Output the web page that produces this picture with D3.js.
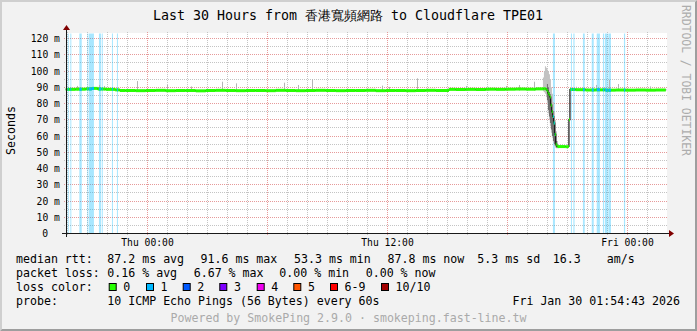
<!DOCTYPE html>
<html><head><meta charset="utf-8">
<script src="https://cdn.jsdelivr.net/npm/d3@7"></script>
<style>
html,body{margin:0;padding:0;background:#f2f2f2;}
svg{display:block;}
text{font-family:"DejaVu Sans Mono",monospace;}
</style></head><body>
<svg id="c" width="697" height="331"></svg>
<script>
// ---------------- data ----------------
const title = "Last 30 Hours from 香港寬頻網路 to Cloudflare TPE01";
const startTime = new Date(2026, 0, 28, 19, 54, 43);
const endTime = new Date(2026, 0, 30, 1, 54, 43);
const yTicks = [0, 10, 20, 30, 40, 50, 60, 70, 80, 90, 100, 110, 120];
const yMinorTicks = [5, 15, 25, 35, 45, 55, 65, 75, 85, 95, 105, 115];
const yTickLabels = ["0", "10 m", "20 m", "30 m", "40 m", "50 m", "60 m", "70 m", "80 m", "90 m", "100 m", "110 m", "120 m"];
const xTickTimes = [new Date(2026, 0, 29, 0, 0), new Date(2026, 0, 29, 12, 0), new Date(2026, 0, 30, 0, 0)];
const xTickLabels = ["Thu 00:00", "Thu 12:00", "Fri 00:00"];

// median rtt: [hours since start, ms]
const medianPts = [
  [0, 88.7], [0.5, 88.8], [1.0, 89.0], [1.3, 89.3], [1.6, 88.9], [2.0, 88.7], [2.47, 88.4],
  [2.7, 88.0], [3.0, 88.0], [3.5, 87.9], [4.0, 88.0], [4.5, 88.1], [5.0, 87.9], [5.5, 88.0],
  [6.0, 88.0], [6.5, 87.8], [7.0, 88.0], [7.5, 88.1], [8.0, 88.0], [8.5, 87.9], [9.0, 88.0],
  [9.5, 88.0], [10.0, 87.9], [10.5, 88.1], [11.0, 88.0], [11.5, 87.9], [12.0, 88.0], [12.5, 88.1],
  [13.0, 88.0], [13.5, 87.9], [14.0, 88.0], [14.5, 88.0], [15.0, 88.1], [15.5, 87.9], [16.0, 88.0],
  [16.5, 88.0], [17.0, 87.9], [17.5, 88.0], [18.0, 88.1], [18.5, 88.0], [19.16, 88.7], [19.5, 88.6],
  [20.0, 88.7], [20.5, 88.6], [21.0, 88.8], [21.5, 88.7], [22.0, 88.8], [22.5, 88.9], [23.0, 88.8],
  [23.5, 89.0], [23.9, 89.1], [24.0, 88.8], [24.05, 88.0], [24.1, 86.5], [24.15, 85.5], [24.2, 84.0],
  [24.25, 79.0], [24.3, 75.0], [24.35, 72.0], [24.4, 68.0], [24.45, 61.0], [24.5, 55.0], [24.55, 53.8],
  [24.6, 53.5], [25.0, 53.4], [25.12, 53.6], [25.16, 70.0], [25.21, 88.6], [25.5, 88.5], [26.0, 88.3],
  [26.5, 88.4], [27.0, 88.2], [27.5, 88.3], [28.0, 88.2], [28.5, 88.3], [29.0, 88.2], [29.5, 88.3], [30.0, 88.2]
];
// smoke spikes (max ping): [hours, ms]
const spikes = [
  [0.61, 90.8], [1.71, 91.4], [1.96, 90.8], [3.61, 93.8], [5.11, 91.4], [6.31, 90.5], [7.86, 93.4],
  [8.56, 92.4], [10.96, 92.8], [11.66, 91.4], [12.36, 95.0], [15.86, 91.0], [16.21, 90.2], [17.61, 95.5],
  [20.06, 90.8], [21.16, 90.2], [22.06, 90.8], [22.71, 91.4], [23.46, 93.4], [25.56, 90.3], [26.56, 91.4],
  [27.21, 94.5], [27.66, 92.0], [29.26, 90.5]
];
// smoke during the drop: [hours, low ms, high ms]
const dropSmoke = [
  [23.86, 87.5, 96], [23.91, 87, 100], [23.96, 86, 103], [24.01, 84, 102], [24.06, 80, 101],
  [24.11, 74, 100], [24.16, 70, 98], [24.21, 66, 95], [24.26, 62, 90], [24.31, 59, 86],
  [24.36, 56, 81], [24.41, 54, 75], [24.46, 53, 70], [24.51, 52.5, 63], [24.56, 52.5, 57], [24.61, 52.5, 55], [24.66, 52.5, 52.5]
];
const dropCore = [
  [24.06, 82, 92], [24.11, 76, 90], [24.16, 72, 87], [24.21, 68, 84], [24.26, 64, 80], [24.31, 60, 76],
  [24.36, 57, 72], [24.41, 55, 68], [24.46, 54, 62], [24.51, 53, 57], [24.56, 53, 53]
];
// periods with 1/10 packet loss: [start hour, end hour]
const lossBands = [
  [0.10, 0.15], [0.23, 0.28], [0.68, 0.80], [1.08, 1.12], [1.15, 1.41], [1.66, 1.76], [1.80, 1.85],
  [2.31, 2.36], [2.56, 2.61], [24.36, 24.46], [25.26, 25.31], [25.38, 25.44], [25.86, 25.95],
  [26.30, 26.40], [26.55, 26.71], [26.86, 26.92], [26.96, 27.10], [27.13, 27.26], [27.91, 27.97]
];
const lossLegendLabels = ["0", "1", "2", "3", "4", "5", "6-9", "10/10"];
const lossLegendColors = ["#26ff00", "#00b8ff", "#0059ff", "#7e00ff", "#f000f0", "#ff5500", "#ff0000", "#a10000"];
const rttStats = ["87.2 ms avg", "91.6 ms max", "53.3 ms min", "87.8 ms now", "5.3 ms sd", "16.3", "am/s"];
const lossStats = ["0.16 % avg", "6.67 % max", "0.00 % min", "0.00 % now"];
const probeText = "10 ICMP Echo Pings (56 Bytes) every 60s";
const dateText = "Fri Jan 30 01:54:43 2026";
const poweredText = "Powered by SmokePing 2.9.0 · smokeping.fast-line.tw";

// ---------------- drawing ----------------
const W = 697, H = 331;
const svg = d3.select("#c");
const x = d3.scaleTime().domain([startTime, endTime]).range([65.74, 665.74]);
const toT = h => new Date(startTime.getTime() + h * 3600000);
const xh = h => x(toT(h));
const y = d3.scaleLinear().domain([0, 123.077]).range([233.5, 33.5]);
const crisp = v => Math.floor(v) + 0.5;

svg.append("rect").attr("width", W).attr("height", H).attr("fill", "#f2f2f2");
svg.append("polygon").attr("points", `0,0 ${W},0 ${W-2},2 2,2 2,${H-2} 0,${H}`).attr("fill", "#cfcfcf");
svg.append("polygon").attr("points", `${W},${H} 0,${H} 2,${H-2} ${W-2},${H-2} ${W-2},2 ${W},0`).attr("fill", "#9e9e9e");

// canvas
svg.append("rect").attr("x", 66).attr("y", 33).attr("width", 601).attr("height", 201).attr("fill", "#ffffff");

// grid
const gGrid = svg.append("g").attr("stroke-width", 1).attr("stroke-dasharray", "1,1").attr("fill", "none");
const majorHours = d3.timeHour.every(6).range(startTime, endTime);
const majorSet = new Set(majorHours.map(d => +d));
d3.timeHour.range(startTime, endTime).filter(d => !majorSet.has(+d)).forEach(d => {
  const px = crisp(x(d));
  gGrid.append("line").attr("x1", px).attr("x2", px).attr("y1", 235).attr("y2", 31).attr("stroke", "#c4c4c4");
});
yMinorTicks.forEach(v => {
  const py = crisp(y(v));
  gGrid.append("line").attr("x1", 64).attr("x2", 668).attr("y1", py).attr("y2", py).attr("stroke", "#c4c4c4");
});
majorHours.forEach(d => {
  const px = crisp(x(d));
  gGrid.append("line").attr("x1", px).attr("x2", px).attr("y1", 235).attr("y2", 31).attr("stroke", "#e69a9a");
});
yTicks.slice(1).forEach(v => {
  const py = crisp(y(v));
  gGrid.append("line").attr("x1", 64).attr("x2", 668).attr("y1", py).attr("y2", py).attr("stroke", "#e69a9a");
});

// loss bands
svg.append("g").selectAll("rect").data(lossBands).join("rect")
  .attr("x", d => xh(d[0])).attr("width", d => xh(d[1]) - xh(d[0]))
  .attr("y", y.range()[1]).attr("height", y.range()[0] - y.range()[1])
  .attr("fill", "#00b8ff").attr("fill-opacity", 0.34);

const clip = svg.append("defs").append("clipPath").attr("id", "lossclip");
clip.selectAll("rect").data(lossBands).join("rect")
  .attr("x", d => xh(d[0])).attr("width", d => xh(d[1]) - xh(d[0]))
  .attr("y", 0).attr("height", H);

// smoke
svg.append("g").selectAll("rect").data(spikes).join("rect")
  .attr("x", d => Math.floor(xh(d[0]))).attr("width", 1)
  .attr("y", d => y(d[1])).attr("height", d => y(88) - y(d[1]))
  .attr("fill", "#b4b4b4");
const smokeArea = d3.area().x(d => xh(d[0])).y0(d => y(d[1])).y1(d => y(d[2])).curve(d3.curveStepAfter);
svg.append("path").datum(dropSmoke).attr("d", smokeArea).attr("fill", "#c2c2c2");
svg.append("path").datum(dropCore).attr("d", smokeArea).attr("fill", "#6e6e6e");

// median: black step verticals, colored horizontals
const segs = d3.pairs(medianPts);
svg.append("path").datum(medianPts)
  .attr("d", d3.line().x(d => xh(d[0])).y(d => y(d[1])).curve(d3.curveStepAfter))
  .attr("fill", "none").attr("stroke", "#111").attr("stroke-width", 1.2);
const drawHoriz = (g, color) => g.selectAll("line").data(segs).join("line")
  .attr("x1", d => xh(d[0][0])).attr("x2", d => xh(d[1][0]) + 0.01)
  .attr("y1", d => y(d[0][1])).attr("y2", d => y(d[0][1]))
  .attr("stroke", color).attr("stroke-width", 3);
drawHoriz(svg.append("g"), "#26ff00");
drawHoriz(svg.append("g").attr("clip-path", "url(#lossclip)"), "#00b8ff");

// axes
const X0 = 66, Y0 = 233, X1 = 666, Y1 = 33;
svg.append("line").attr("x1", X0 - 4).attr("x2", X1 + 4).attr("y1", Y0 + 0.5).attr("y2", Y0 + 0.5).attr("stroke", "#1a1a1a");
svg.append("line").attr("x1", X0 + 0.5).attr("x2", X0 + 0.5).attr("y1", Y0 + 4).attr("y2", Y1 - 4).attr("stroke", "#1a1a1a");
svg.append("polygon").attr("points", `${X1+3},${Y0-3} ${X1+3},${Y0+4} ${X1+8},${Y0+0.5}`).attr("fill", "#800000");
svg.append("polygon").attr("points", `${X0-3},${Y1-3} ${X0+4},${Y1-3} ${X0+0.5},${Y1-8}`).attr("fill", "#800000");

// y tick labels
svg.append("g").selectAll("text").data(yTicks).join("text")
  .attr("x", (d, i) => yTickLabels[i].includes("m") ? 59.9 : 48.1)
  .attr("y", d => y(d) + 3.5)
  .attr("text-anchor", "end").attr("font-size", "9.7px").attr("fill", "#000")
  .text((d, i) => yTickLabels[i]);

// x tick labels
svg.append("g").selectAll("text").data(xTickTimes).join("text")
  .attr("x", d => crisp(x(d))).attr("y", 245.5)
  .attr("text-anchor", "middle").attr("font-size", "9.7px").attr("fill", "#000")
  .text((d, i) => xTickLabels[i]);

// title
svg.append("text").attr("x", 348).attr("y", 19.5).attr("text-anchor", "middle")
  .attr("font-size", "13.3px").attr("fill", "#000").text(title);

// y axis title
svg.append("text").attr("transform", "translate(15.3,130.5) rotate(-90)")
  .attr("text-anchor", "middle").attr("font-size", "11.6px").attr("fill", "#000").text("Seconds");

// right watermark
svg.append("text").attr("transform", "translate(681.7,5) rotate(90)")
  .attr("font-size", "11.4px").attr("fill", "#adadad").text("RRDTOOL / TOBI OETIKER");

// legend
const lg = svg.append("g").attr("font-size", "11.6px").attr("fill", "#000").attr("xml:space", "preserve");
const L1 = 263, L2 = 277, L3 = 291, L4 = 305;
lg.append("text").attr("x", 16).attr("y", L1).text("median rtt:");
const rttX = [107.3, 200.5, 294, 387.5, 477.3, 552.7, 606.7];
rttStats.forEach((s, i) => lg.append("text").attr("x", rttX[i]).attr("y", L1).text(s));
lg.append("text").attr("x", 16).attr("y", L2).text("packet loss:");
const lossX = [107.3, 193.7, 279.3, 365.7];
lossStats.forEach((s, i) => lg.append("text").attr("x", lossX[i]).attr("y", L2).text(s));
lg.append("text").attr("x", 16).attr("y", L3).text("loss color:");
const boxX = [108.7, 146, 182.7, 219.3, 256.7, 293.3, 330, 381];
lossLegendLabels.forEach((s, i) => {
  lg.append("rect").attr("x", boxX[i] + 0.5).attr("y", 283.5).attr("width", 7).attr("height", 7)
    .attr("fill", lossLegendColors[i]).attr("stroke", "#000").attr("stroke-width", 1);
  lg.append("text").attr("x", boxX[i] + 14.6).attr("y", L3).text(s);
});
lg.append("text").attr("x", 16).attr("y", L4).text("probe:");
lg.append("text").attr("x", 107.3).attr("y", L4).text(probeText);
lg.append("text").attr("x", 680).attr("y", L4).attr("text-anchor", "end").text(dateText);
svg.append("text").attr("x", 348.5).attr("y", 321.5).attr("text-anchor", "middle")
  .attr("font-size", "11.6px").attr("fill", "#aaaaaa").text(poweredText);
</script>
</body></html>
